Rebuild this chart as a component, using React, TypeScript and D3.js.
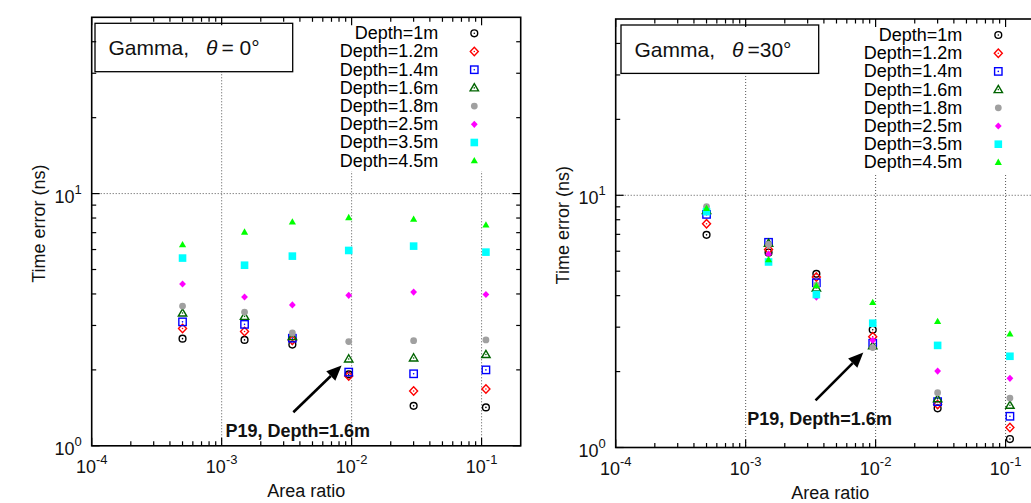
import React, { useEffect, useRef } from 'react';
import * as d3 from 'd3';

// Area ratio positions (same for both panels)
const areaRatio = [5e-4, 1.5e-3, 3.5e-3, 9.5e-3, 0.03, 0.108];
const depthLabels = ['Depth=1m', 'Depth=1.2m', 'Depth=1.4m', 'Depth=1.6m', 'Depth=1.8m', 'Depth=2.5m', 'Depth=3.5m', 'Depth=4.5m'];

// Time error (ns), theta = 0 deg, one row per depth
const theta0Errors = [
  [2.66, 2.63, 2.52, 1.92, 1.44, 1.42],
  [2.92, 2.84, 2.62, 1.89, 1.65, 1.68],
  [3.10, 3.03, 2.67, 1.96, 1.93, 2.00],
  [3.36, 3.26, 2.71, 2.21, 2.23, 2.30],
  [3.58, 3.39, 2.80, 2.59, 2.61, 2.63],
  [4.38, 3.89, 3.62, 3.95, 4.07, 3.98],
  [5.55, 5.20, 5.65, 5.95, 6.19, 5.86],
  [6.27, 7.04, 7.72, 8.03, 7.91, 7.51],
];

// Time error (ns), theta = 30 deg
const theta30Errors = [
  [6.97, 5.93, 4.88, 2.93, 1.43, 1.08],
  [7.71, 6.10, 4.74, 2.75, 1.48, 1.20],
  [8.40, 6.51, 4.50, 2.59, 1.52, 1.33],
  [8.70, 6.45, 4.29, 2.53, 1.56, 1.47],
  [9.02, 6.38, 4.40, 2.49, 1.65, 1.57],
  [8.55, 5.84, 3.95, 2.66, 2.01, 1.88],
  [8.61, 5.44, 4.04, 3.11, 2.54, 2.30],
  [8.88, 5.56, 4.38, 3.76, 3.16, 2.82],
];

const xTicks = [1e-4, 1e-3, 1e-2, 1e-1];
const xTickExp = ['-4', '-3', '-2', '-1'];
const yTicks = [1, 10];
const yTickExp = ['0', '1'];

const styles = [
  { color: '#000000', shape: 'circle', filled: false },
  { color: '#ff0000', shape: 'diamond', filled: false },
  { color: '#0000ff', shape: 'square', filled: false },
  { color: '#006400', shape: 'triangle', filled: false },
  { color: '#a0a0a0', shape: 'circle', filled: true },
  { color: '#ff00ff', shape: 'diamond', filled: true },
  { color: '#00ffff', shape: 'square', filled: true },
  { color: '#00ff00', shape: 'triangle', filled: true },
];

const FONT = '"Liberation Sans", Arial, Helvetica, sans-serif';
const PW = 429;
const PH = 428.5;

const panels = [
  { left: 91.7, top: 17.3, data: theta0Errors, angle: '= 0°',
    arrowFrom: [3.56e-3, 1.358], arrowTo: [8.37e-3, 2.08], note: [1.07e-3, 1.086] },
  { left: 615.7, top: 19, data: theta30Errors, angle: '=30°',
    arrowFrom: [3.45e-3, 1.537], arrowTo: [8.04e-3, 2.38], note: [1.03e-3, 1.23] },
];

function marker(g: any, st: any, cx: number, cy: number) {
  const m = g.append('g').attr('transform', `translate(${cx},${cy})`);
  const c = st.color;
  if (st.filled) {
    if (st.shape === 'circle') m.append('circle').attr('r', 3.4).attr('fill', c);
    if (st.shape === 'diamond') m.append('path').attr('d', 'M0,-3.6L3.4,0L0,3.6L-3.4,0Z').attr('fill', c);
    if (st.shape === 'square') m.append('rect').attr('x', -3.8).attr('y', -3.8).attr('width', 7.6).attr('height', 7.6).attr('fill', c);
    if (st.shape === 'triangle') m.append('path').attr('d', 'M0,-3.8L3.6,2.6L-3.6,2.6Z').attr('fill', c);
  } else {
    const sw = 1.4;
    if (st.shape === 'circle') m.append('circle').attr('r', 3.4).attr('fill', 'none').attr('stroke', c).attr('stroke-width', sw);
    if (st.shape === 'diamond') m.append('path').attr('d', 'M0,-4.2L4,0L0,4.2L-4,0Z').attr('fill', 'none').attr('stroke', c).attr('stroke-width', sw);
    if (st.shape === 'square') m.append('rect').attr('x', -3.7).attr('y', -3.7).attr('width', 7.4).attr('height', 7.4).attr('fill', 'none').attr('stroke', c).attr('stroke-width', sw);
    if (st.shape === 'triangle') m.append('path').attr('d', 'M0,-4.2L4.2,3L-4.2,3Z').attr('fill', 'none').attr('stroke', c).attr('stroke-width', sw);
    m.append('circle').attr('r', 0.8).attr('fill', c);
  }
}

export default function App() {
  const svgRef = useRef<SVGSVGElement>(null);

  useEffect(() => {
    const svg = d3.select(svgRef.current);
    svg.selectAll('*').remove();

    panels.forEach(p => {
      const g = svg.append('g').attr('transform', `translate(${p.left},${p.top})`);
      const x = d3.scaleLog().domain([1e-4, 0.2]).range([0, PW]);
      const y = d3.scaleLog().domain([1, 50]).range([PH, 0]);

      // Grid
      const gridStyle = (sel: any) => sel.attr('stroke', '#555').attr('stroke-width', 1).attr('stroke-dasharray', '1,2');
      g.selectAll('.vgrid').data(xTicks.slice(1)).join('line')
        .attr('x1', d => x(d)).attr('x2', d => x(d)).attr('y1', 0).attr('y2', PH).call(gridStyle);
      g.selectAll('.hgrid').data([10]).join('line')
        .attr('x1', 0).attr('x2', PW).attr('y1', d => y(d)).attr('y2', d => y(d)).call(gridStyle);

      // Legend (opaque)
      g.append('rect').attr('x', PW - 200).attr('y', 1).attr('width', 199).attr('height', 153).attr('fill', '#fff');
      depthLabels.forEach((lab, i) => {
        const ly = 16 + i * 18.2;
        g.append('text').attr('x', PW - 82.4).attr('y', ly + 6).attr('text-anchor', 'end')
          .attr('font-family', FONT).attr('font-size', 18).attr('fill', '#000').text(lab);
        marker(g, styles[i], PW - 46.4, ly);
      });

      // Title box
      const bx = p.left === 91.7 ? 3.3 : 5.3;
      g.append('rect').attr('x', bx).attr('y', 6).attr('width', 197.7).attr('height', 48.4)
        .attr('fill', '#fff').attr('stroke', '#000').attr('stroke-width', 1.3);
      const t = g.append('text').attr('y', 38).attr('font-family', FONT).attr('font-size', 21).attr('fill', '#111');
      t.append('tspan').attr('x', bx + 13.5).text('Gamma,');
      t.append('tspan').attr('x', bx + 111).attr('font-style', 'italic').text('θ');
      t.append('tspan').attr('x', bx + 126.5).text(p.angle);

      // Points
      p.data.forEach((row, si) => {
        row.forEach((v, j) => marker(g, styles[si], x(areaRatio[j]), y(v)));
      });

      // Arrow annotation
      const [fx, fy] = [x(p.arrowFrom[0]), y(p.arrowFrom[1])];
      const [tx, ty] = [x(p.arrowTo[0]), y(p.arrowTo[1])];
      const ang = Math.atan2(ty - fy, tx - fx);
      const hl = 15, hw = 6.5;
      const bxp = tx - hl * Math.cos(ang), byp = ty - hl * Math.sin(ang);
      g.append('line').attr('x1', fx).attr('y1', fy).attr('x2', bxp).attr('y2', byp)
        .attr('stroke', '#000').attr('stroke-width', 2.6);
      g.append('path').attr('d', `M${tx},${ty}L${bxp - hw * Math.sin(ang)},${byp + hw * Math.cos(ang)}L${bxp + hw * Math.sin(ang)},${byp - hw * Math.cos(ang)}Z`)
        .attr('fill', '#000');
      g.append('text').attr('x', x(p.note[0])).attr('y', y(p.note[1])).attr('font-family', FONT)
        .attr('font-size', 18).attr('font-weight', 'bold').attr('fill', '#111').text('P19, Depth=1.6m');

      // Ticks (inward, mirrored)
      const minorX: number[] = [];
      [1e-4, 1e-3, 1e-2, 1e-1].forEach(d => { for (let k = 2; k <= 9; k++) if (d * k < 0.2) minorX.push(d * k); });
      const minorY: number[] = [];
      [1, 10].forEach(d => { for (let k = 2; k <= 9; k++) if (d * k < 50) minorY.push(d * k); });
      const tick = (sel: any) => sel.attr('stroke', '#000').attr('stroke-width', 1.2);
      [[xTicks, 8], [minorX, 4.5]].forEach(([vals, len]: any) => {
        vals.forEach((d: number) => {
          g.append('line').attr('x1', x(d)).attr('x2', x(d)).attr('y1', PH).attr('y2', PH - len).call(tick);
          g.append('line').attr('x1', x(d)).attr('x2', x(d)).attr('y1', 0).attr('y2', len).call(tick);
        });
      });
      [[yTicks, 8], [minorY, 4.5]].forEach(([vals, len]: any) => {
        vals.forEach((d: number) => {
          g.append('line').attr('y1', y(d)).attr('y2', y(d)).attr('x1', 0).attr('x2', len).call(tick);
          g.append('line').attr('y1', y(d)).attr('y2', y(d)).attr('x1', PW).attr('x2', PW - len).call(tick);
        });
      });

      // Frame
      g.append('rect').attr('x', 0).attr('y', 0).attr('width', PW).attr('height', PH)
        .attr('fill', 'none').attr('stroke', '#000').attr('stroke-width', 1.6);

      // Tick labels
      xTicks.forEach((d, i) => {
        const tl = g.append('text').attr('x', x(d)).attr('y', PH + 27.5).attr('text-anchor', 'middle')
          .attr('font-family', FONT).attr('font-size', 18).attr('fill', '#111');
        tl.append('tspan').text('10');
        tl.append('tspan').attr('dy', -9).attr('font-size', 13).text(xTickExp[i]);
      });
      yTicks.forEach((d, i) => {
        const tl = g.append('text').attr('x', -10).attr('y', y(d) + 9).attr('text-anchor', 'end')
          .attr('font-family', FONT).attr('font-size', 18).attr('fill', '#111');
        tl.append('tspan').text('10');
        tl.append('tspan').attr('dy', -9).attr('font-size', 13).text(yTickExp[i]);
      });

      // Axis titles
      g.append('text').attr('x', PW / 2).attr('y', PH + 51.5).attr('text-anchor', 'middle')
        .attr('font-family', FONT).attr('font-size', 18).attr('fill', '#111').text('Area ratio');
      g.append('text').attr('transform', `translate(-46.5,${PH / 2 - 8}) rotate(-90)`).attr('text-anchor', 'middle')
        .attr('font-family', FONT).attr('font-size', 18).attr('fill', '#111').text('Time error (ns)');
    });
  }, []);

  return (
    <div style={{ position: 'absolute', left: 0, top: 0, width: 1031, height: 503, overflow: 'hidden', background: '#fff' }}>
      <svg ref={svgRef} width={1031} height={503} style={{ display: 'block' }} />
    </div>
  );
}
